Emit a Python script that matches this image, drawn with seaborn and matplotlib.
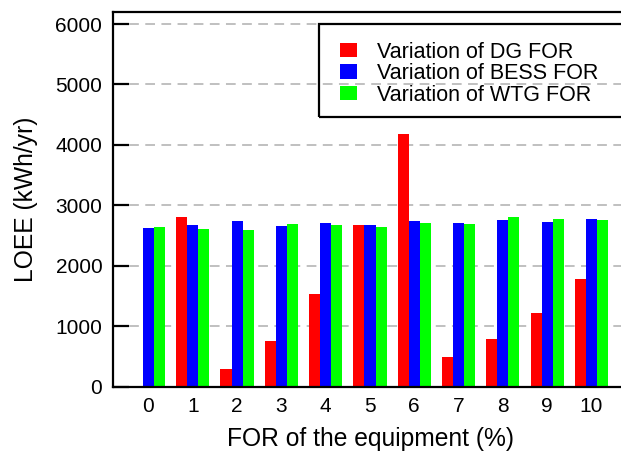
import matplotlib
matplotlib.use("Agg")
import matplotlib.pyplot as plt
from matplotlib.patches import Rectangle
import seaborn as sns
import pandas as pd

# ---- data ----
for_levels = [0, 1, 2, 3, 4, 5, 6, 7, 8, 9, 10]
dg_for = [0, 2800, 290, 756, 1533, 2667, 4178, 489, 794, 1217, 1772]
bess_for = [2617, 2667, 2733, 2656, 2706, 2672, 2733, 2700, 2756, 2722, 2778]
wtg_for = [2644, 2611, 2589, 2694, 2667, 2644, 2706, 2683, 2806, 2778, 2750]
series_names = ["Variation of DG FOR", "Variation of BESS FOR", "Variation of WTG FOR"]
colors = ["#ff0000", "#0000ff", "#00ff00"]
y_ticks = [0, 1000, 2000, 3000, 4000, 5000, 6000]

rows = []
for name, vals in zip(series_names, [dg_for, bess_for, wtg_for]):
    for x, v in zip(for_levels, vals):
        rows.append({"FOR": str(x), "LOEE": v, "Series": name})
df = pd.DataFrame(rows)

sns.set_style("white")
plt.rcParams["font.family"] = ["Liberation Sans", "DejaVu Sans"]
plt.rcParams["text.color"] = "black"
plt.rcParams["axes.labelcolor"] = "black"

W, H = 621, 454
fig = plt.figure(figsize=(W / 100, H / 100), dpi=100)
ax_l, ax_r, ax_t, ax_b = 113.4, 630, 12, 386.5
ax = fig.add_axes([ax_l / W, (H - ax_b) / H, (ax_r - ax_l) / W, (ax_b - ax_t) / H])

sns.barplot(data=df, x="FOR", y="LOEE", hue="Series",
            order=[str(x) for x in for_levels], hue_order=series_names,
            palette=colors, width=0.75, gap=0, saturation=1,
            errorbar=None, ax=ax, legend=True, linewidth=0, zorder=2)

ax.set_xlim(-0.792, 10.87)
ax.set_ylim(0, 6199)
ax.set_yticks(y_ticks)
ax.yaxis.grid(True, linestyle=(0, (5, 3.3)), color="#c0c0c0", linewidth=1.4, zorder=0)
ax.xaxis.grid(False)
ax.set_axisbelow(True)

for s in ["left", "bottom", "top"]:
    ax.spines[s].set_linewidth(1.6)
    ax.spines[s].set_color("black")
    ax.spines[s].set_zorder(4)
ax.spines["right"].set_visible(False)

ax.tick_params(axis="y", direction="in", length=11.5, width=1.6, pad=8.0,
               labelsize=15, colors="black", left=True)
ax.tick_params(axis="x", length=0, pad=7.2, labelsize=15, colors="black")

ax.set_xlabel("FOR of the equipment (%)", fontsize=17.7, color="black")
ax.set_ylabel("LOEE (kWh/yr)", fontsize=17.7, color="black")
ax.xaxis.set_label_coords(0.497, -0.107)
ax.yaxis.set_label_coords(-0.145, 0.5)

handles, labels = ax.get_legend_handles_labels()
leg = ax.legend(handles, labels, loc="upper left",
                bbox_to_anchor=(340 / W, 1 - 41.5 / H), bbox_transform=fig.transFigure,
                frameon=False, fontsize=15.5, borderpad=0, borderaxespad=0,
                handlelength=0.8, handleheight=0.65, handletextpad=0.92,
                labelspacing=0.03)
for t in leg.get_texts():
    t.set_color("black")
fig.add_artist(Rectangle((319.3 / W, 1 - 117.3 / H), (640 - 319.3) / W, (117.3 - 24) / H,
                         transform=fig.transFigure, fill=False, edgecolor="black",
                         linewidth=1.6, zorder=10))

fig.savefig("out.png", dpi=100)
